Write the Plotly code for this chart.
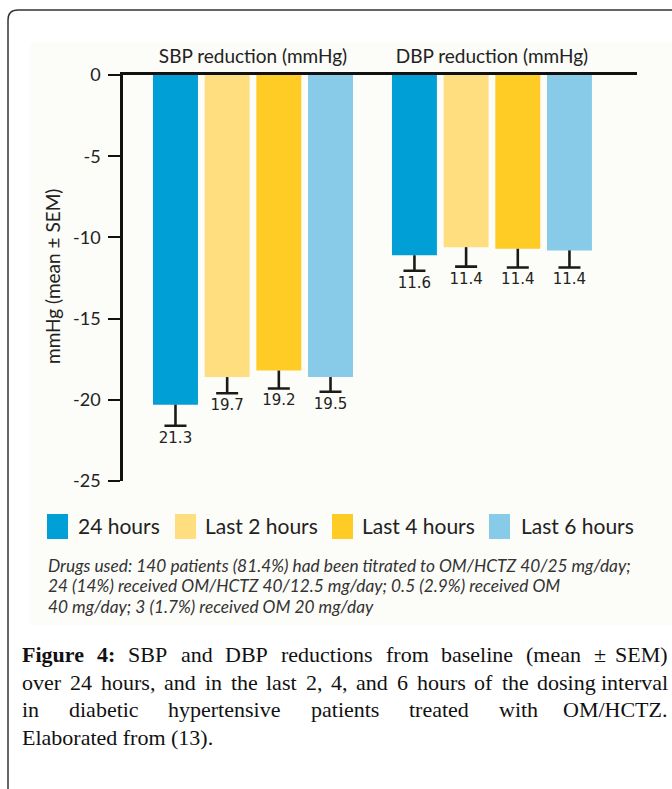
import plotly.graph_objects as go

# ---------------- data ----------------
groups = ["SBP reduction (mmHg)", "DBP reduction (mmHg)"]
series = ["24 hours", "Last 2 hours", "Last 4 hours", "Last 6 hours"]
colors = ["#00a0d6", "#ffde80", "#ffcb25", "#88cbe8"]
sbp_mean = [-20.3, -18.6, -18.2, -18.6]
sbp_sem = [1.3, 1.0, 1.1, 0.9]
dbp_mean = [-11.1, -10.6, -10.7, -10.8]
dbp_sem = [0.95, 1.2, 1.15, 1.05]
sbp_labels = ["21.3", "19.7", "19.2", "19.5"]
dbp_labels = ["11.6", "11.4", "11.4", "11.4"]
y_ticks = [0, -5, -10, -15, -20, -25]
y_title = "mmHg (mean ± SEM)"
footnote = [
    "Drugs used: 140 patients (81.4%) had been titrated to OM/HCTZ 40/25 mg/day;",
    "24 (14%) received OM/HCTZ 40/12.5 mg/day; 0.5 (2.9%) received OM",
    "40 mg/day; 3 (1.7%) received OM 20 mg/day",
]
caption_lines = [
    "Figure 4: SBP and DBP reductions from baseline (mean ± SEM)",
    "over 24 hours, and in the last 2, 4, and 6 hours of the dosing interval",
    "in diabetic hypertensive patients treated with OM/HCTZ.",
    "Elaborated from (13).",
]

W, H = 672, 789
SANS = "Lato, 'Open Sans', sans-serif"
SERIF = "'Liberation Serif', 'Times New Roman', serif"
INK = "#222222"


def px(x):
    return x / W


def py(y):
    return 1 - y / H


fig = go.Figure()

for i, name in enumerate(series):
    means = [sbp_mean[i], dbp_mean[i]]
    sems = [sbp_sem[i], dbp_sem[i]]
    # coloured bar with a downward stem (no caps)
    fig.add_trace(go.Bar(
        x=groups, y=means, name=name, offsetgroup=str(i),
        marker=dict(color=colors[i], line=dict(width=0)),
        error_y=dict(type="data", symmetric=False, array=[0, 0], arrayminus=sems,
                     width=0, thickness=2.6, color="#1a1a1a"),
        showlegend=False, hoverinfo="skip",
    ))
    # invisible bar at the error end: carries the cap and the label
    ends = [m - s for m, s in zip(means, sems)]
    fig.add_trace(go.Bar(
        x=groups, y=ends, offsetgroup=str(i),
        marker=dict(color="rgba(0,0,0,0)", line=dict(width=0)),
        error_y=dict(type="data", symmetric=False, array=[0, 0], arrayminus=[0, 0],
                     width=11, thickness=2.6, color="#1a1a1a"),
        text=[sbp_labels[i], dbp_labels[i]], textposition="outside",
        textfont=dict(family="DejaVu Sans", size=15, color=INK),
        constraintext="none", cliponaxis=False,
        showlegend=False, hoverinfo="skip",
    ))

shapes = []
annotations = []

# frame with rounded top-left corner
r = 10
path = (f"M {px(8)},{py(H + 5)} L {px(8)},{py(10 + r)} "
        f"Q {px(8)},{py(10)} {px(8 + r)},{py(10)} L {px(W + 5)},{py(10)}")
shapes.append(dict(type="path", xref="paper", yref="paper", path=path,
                   line=dict(color="#333333", width=1.5), layer="above"))
# faint tint of pasted chart image
shapes.append(dict(type="rect", xref="paper", yref="paper",
                   x0=px(30), x1=px(W), y0=py(42), y1=py(625),
                   fillcolor="#fcfcf8", line=dict(width=0), layer="below"))

# legend (boxes + labels)
leg_box_x = [47, 175, 332, 489]
leg_text_x = [76, 203, 360, 519]
for i, name in enumerate(series):
    shapes.append(dict(type="rect", xref="paper", yref="paper",
                       x0=px(leg_box_x[i]), x1=px(leg_box_x[i] + 21),
                       y0=py(514), y1=py(539),
                       fillcolor=colors[i], line=dict(width=0)))
    annotations.append(dict(xref="paper", yref="paper", x=px(leg_text_x[i]), y=py(525),
                            xanchor="left", yanchor="middle", showarrow=False,
                            text=name, font=dict(family=SANS, size=21, color=INK)))

# y axis title
annotations.append(dict(xref="paper", yref="paper", x=px(53), y=py(277),
                        xanchor="center", yanchor="middle", showarrow=False,
                        textangle=-90, text=y_title,
                        font=dict(family=SANS, size=19, color=INK)))

# footnote
for k, line in enumerate(footnote):
    annotations.append(dict(xref="paper", yref="paper", x=px(46), y=py(565 + 20.5 * k),
                            xanchor="left", yanchor="middle", showarrow=False,
                            text=f"<i>{line}</i>",
                            font=dict(family=SANS, size=17.3, color="#333333")))

# caption (justified, Times metrics)
TW = {" ": 250, "!": 333, "(": 333, ")": 333, ",": 250, "-": 333, ".": 250, "/": 278,
      ":": 278, ";": 278, "±": 564,
      "A": 722, "B": 667, "C": 667, "D": 722, "E": 611, "F": 556, "G": 722, "H": 722,
      "I": 333, "M": 889, "O": 722, "P": 556, "S": 556, "T": 611, "Z": 611,
      "a": 444, "b": 500, "c": 444, "d": 500, "e": 444, "f": 333, "g": 500, "h": 500,
      "i": 278, "k": 500, "l": 278, "m": 778, "n": 500, "o": 500, "p": 500, "r": 333,
      "s": 389, "t": 278, "u": 500, "v": 500, "w": 722, "y": 500}
for d in "0123456789":
    TW[d] = 500
TWB = dict(TW)
TWB.update({"F": 611, "u": 556, "r": 444, ":": 333})

CAP_SIZE = 22
CAP_L, CAP_R = 20, 670


def word_w(w, bold):
    t = TWB if bold else TW
    return sum(t.get(c, 500) for c in w) * CAP_SIZE / 1000.0


cap_y = [654, 682, 709, 737]
bold_words = {"Figure", "4:"}
cap_words = [[(w, w in bold_words and k == 0) for w in caption_lines[k].split(" ")]
             for k in range(3)]
for k, words in enumerate(cap_words):
    widths = [word_w(w, b) for w, b in words]
    gap = (CAP_R - CAP_L - sum(widths)) / (len(words) - 1)
    x = CAP_L
    for j, (w, b) in enumerate(words):
        txt = f"<b>{w}</b>" if b else w
        last = j == len(words) - 1
        annotations.append(dict(xref="paper", yref="paper",
                                x=px(CAP_R) if last else px(x), y=py(cap_y[k]),
                                xanchor="right" if last else "left", yanchor="middle",
                                showarrow=False, text=txt,
                                font=dict(family=SERIF, size=CAP_SIZE, color="#111111")))
        x += widths[j] + gap
annotations.append(dict(xref="paper", yref="paper", x=px(CAP_L), y=py(cap_y[3]),
                        xanchor="left", yanchor="middle", showarrow=False,
                        text=caption_lines[3],
                        font=dict(family=SERIF, size=CAP_SIZE, color="#111111")))

fig.update_layout(
    width=W, height=H, autosize=False,
    margin=dict(l=0, r=0, t=0, b=0, pad=0, autoexpand=False),
    paper_bgcolor="white", plot_bgcolor="rgba(0,0,0,0)",
    barmode="group", bargap=0.135, bargroupgap=0.13,
    showlegend=False,
    shapes=shapes, annotations=annotations,
    xaxis=dict(domain=[px(123), px(637)], type="category", range=[-0.544, 1.607],
               side="top", showline=True, linecolor="#111111", linewidth=3,
               ticks="", showgrid=False, zeroline=False, automargin=False,
               tickfont=dict(family=SANS, size=19, color=INK), ticklabelstandoff=1),
    yaxis=dict(domain=[1 - 481 / H, 1 - 75 / H], range=[-25, 0],
               tickvals=y_ticks, ticktext=[str(v) for v in y_ticks],
               ticks="outside", ticklen=12, tickwidth=2.2, tickcolor="#111111",
               showline=True, linecolor="#111111", linewidth=2.5,
               showgrid=False, zeroline=False, automargin=False,
               tickfont=dict(family=SANS, size=18, color=INK), ticklabelstandoff=4),
)

fig.write_html("out.html")
